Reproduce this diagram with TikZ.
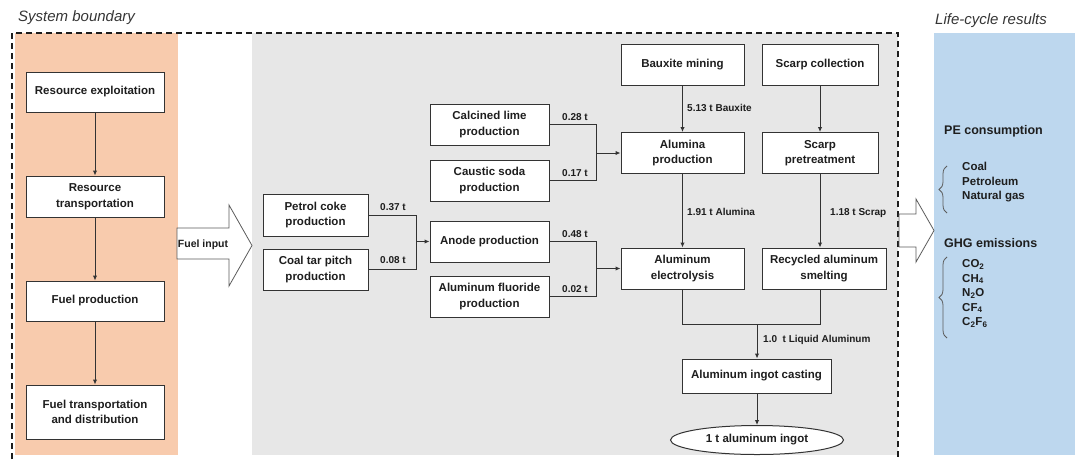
\documentclass[tikz,border=0pt]{standalone}
\usepackage{fontspec}
\setmainfont{Liberation Sans}
\usetikzlibrary{arrows.meta,decorations.pathreplacing,shapes.geometric}
\definecolor{orangebg}{HTML}{F8CBAD}
\definecolor{greybg}{HTML}{E7E7E7}
\definecolor{bluebg}{HTML}{BDD7EE}
\definecolor{ink}{HTML}{1E1E1E}
\definecolor{edge}{HTML}{333333}
\begin{document}
\begin{tikzpicture}[x=1pt,y=-1pt,
  box/.style={draw=edge, line width=1pt, fill=white, align=center, text=ink,
    font=\fontsize{11.5}{15.5}\selectfont\bfseries, inner sep=1pt},
  ln/.style={draw=edge, line width=1pt},
  arr/.style={draw=edge, line width=1pt, -{Latex[length=5pt,width=4.5pt]}},
  lbl/.style={font=\fontsize{10}{11}\selectfont\bfseries, text=ink, inner sep=0pt},
  rtxt/.style={font=\fontsize{11.5}{14.5}\selectfont\bfseries, text=ink, inner sep=0pt, align=left, anchor=west},
  rhead/.style={font=\fontsize{12.5}{14}\selectfont\bfseries, text=ink, inner sep=0pt, anchor=west},
  ttl/.style={font=\fontsize{15}{18}\selectfont\itshape, text=ink!90, inner sep=0pt, anchor=west},
  bigarrow/.style={draw=edge!80, line width=0.8pt, fill=white},
  bracestyle/.style={draw=edge!80, line width=0.8pt, decorate, decoration={brace, amplitude=8pt}},
  boundary/.style={draw=ink, line width=1.4pt, dash pattern=on 6pt off 4pt}
]
\useasboundingbox (0,0) rectangle (1075,459);
% backgrounds
\fill[orangebg] (15,33) rectangle (178,455);
\fill[greybg] (252,33) rectangle (898,455);
\fill[bluebg] (934,33) rectangle (1075,455);
% boundary
\draw[boundary] (12,459) -- (12,33) -- (898,33) -- (898,459);
% titles
\node[ttl] (sb) at (18,18) {System boundary};
\node[ttl] (lcr) at (935,21) {Life-cycle results};

% left column
\node[box, minimum width=138, minimum height=40] (re) at (95,92) {Resource exploitation};
\node[box, minimum width=138, minimum height=41] (rt) at (95,196.5) {Resource\\transportation};
\node[box, minimum width=138, minimum height=40] (fp) at (95,301) {Fuel production};
\node[box, minimum width=138, minimum height=54] (ft) at (95,412) {Fuel transportation\\and distribution};
\draw[arr] (re) -- (rt);
\draw[arr] (rt) -- (fp);
\draw[arr] (fp) -- (ft);

% fuel input arrow
\draw[bigarrow] (177,228) -- (229,228) -- (229,205) -- (252,245.5) -- (229,286) -- (229,259) -- (177,259) -- cycle;
\node[font=\fontsize{10.5}{12}\selectfont\bfseries, text=ink] (fi) at (203,245) {Fuel input};

% middle boxes
\node[box, minimum width=105, minimum height=42] (petrol) at (315.5,215) {Petrol coke\\production};
\node[box, minimum width=105, minimum height=41] (coal) at (315.5,269.5) {Coal tar pitch\\production};
\node[box, minimum width=119, minimum height=41] (lime) at (489.5,124.5) {Calcined lime\\production};
\node[box, minimum width=119, minimum height=41] (soda) at (489.5,180.5) {Caustic soda\\production};
\node[box, minimum width=119, minimum height=41] (anode) at (489.5,241.5) {Anode production};
\node[box, minimum width=119, minimum height=41] (alf) at (489.5,296.5) {Aluminum fluoride\\production};
\node[box, minimum width=123, minimum height=41] (baux) at (682.5,64.5) {Bauxite mining};
\node[box, minimum width=123, minimum height=41] (alumina) at (682.5,153) {Alumina\\production};
\node[box, minimum width=123, minimum height=41] (elec) at (682.5,268.5) {Aluminum\\electrolysis};
\node[box, minimum width=116, minimum height=41] (scol) at (820,64.5) {Scarp collection};
\node[box, minimum width=116, minimum height=41] (spre) at (820,153) {Scarp\\pretreatment};
\node[box, minimum width=124, minimum height=41] (smelt) at (824,268.5) {Recycled aluminum\\smelting};
\node[box, minimum width=149, minimum height=34] (cast) at (756.5,376) {Aluminum ingot casting};
\node[box, ellipse, minimum width=173, minimum height=29, inner sep=0pt] (ingot) at (757,440) {1 t aluminum ingot};

% petrol + coal -> anode
\draw[ln] (petrol.east) -- ++(48,0) coordinate (pc) |- (coal.east);
\draw[arr] (pc |- anode.west) -- (anode.west);
\node[lbl] (l037) at (393,207) {0.37 t};
\node[lbl] (l008) at (393,260) {0.08 t};

% lime + soda -> alumina
\draw[ln] (lime.east) -- ++(47,0) coordinate (ls) |- (soda.east);
\draw[arr] (ls |- alumina.west) -- (alumina.west);
\node[lbl] (l028) at (575,117) {0.28 t};
\node[lbl] (l017) at (575,173) {0.17 t};

% anode + alf -> electrolysis
\draw[ln] (anode.east) -- ++(47,0) coordinate (aa) |- (alf.east);
\draw[arr] (aa |- elec.west) -- (elec.west);
\node[lbl] (l048) at (575,234) {0.48 t};
\node[lbl] (l002) at (575,289) {0.02 t};

% vertical flows
\draw[arr] (baux) -- (alumina);
\draw[arr] (alumina) -- (elec);
\draw[arr] (scol) -- (spre);
\draw[arr] (spre.south) -- (spre.south |- smelt.north);
\node[lbl, anchor=west] (lbx) at (687,108) {5.13 t Bauxite};
\node[lbl, anchor=west] (lal) at (687,212) {1.91 t Alumina};
\node[lbl, anchor=west] (lsc) at (830,213) {1.18 t Scrap};

% merge to casting
\coordinate (mg) at (757,324);
\draw[ln] (elec.south) |- (mg);
\draw[ln] (spre.south |- smelt.south) |- (mg);
\draw[arr] (mg) -- (mg |- cast.north);
\node[lbl, anchor=west] (lla) at (763,340) {1.0~~t Liquid Aluminum};
\draw[arr] (cast.south -| mg) -- (mg |- ingot.north);

% right arrow
\draw[bigarrow] (899,214) -- (916,214) -- (916,199) -- (934,230.5) -- (916,262) -- (916,247) -- (899,247) -- cycle;

% results
\node[rhead] (pe) at (944,131) {PE consumption};
\node[rtxt] (pel) at (962,182.5) {Coal\\Petroleum\\Natural gas};
\draw[bracestyle] (947,213) -- (947,166);
\node[rhead] (ghg) at (944,243) {GHG emissions};
\node[rtxt] (ghgl) at (962,293.5) {CO\textsubscript{2}\\CH\textsubscript{4}\\N\textsubscript{2}O\\CF\textsubscript{4}\\C\textsubscript{2}F\textsubscript{6}};
\draw[bracestyle] (947,338) -- (947,257);
\end{tikzpicture}
\end{document}
